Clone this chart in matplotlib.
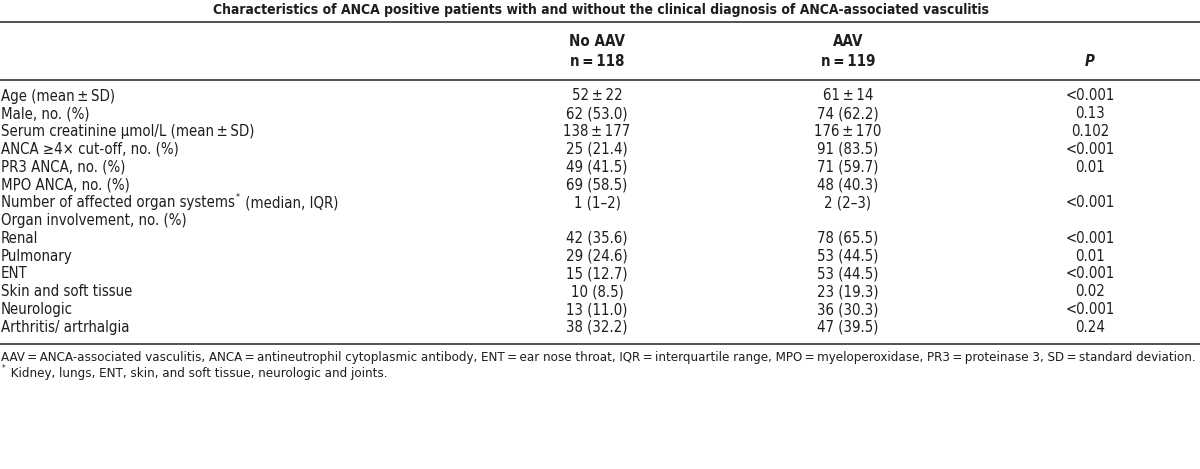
import matplotlib.pyplot as plt
from matplotlib import font_manager
from matplotlib.font_manager import FontProperties

# --- table content ---
title = "Characteristics of ANCA positive patients with and without the clinical diagnosis of ANCA-associated vasculitis"
col_top = ["No AAV", "AAV", ""]
col_bottom = ["n\u2009=\u2009118", "n\u2009=\u2009119", "P"]

row_labels = [
    "Age (mean\u2009\u00b1\u2009SD)",
    "Male, no. (%)",
    "Serum creatinine \u03bcmol/L (mean\u2009\u00b1\u2009SD)",
    "ANCA \u22654\u00d7 cut-off, no. (%)",
    "PR3 ANCA, no. (%)",
    "MPO ANCA, no. (%)",
    "Number of affected organ systems* (median, IQR)",
    "Organ involvement, no. (%)",
    "Renal",
    "Pulmonary",
    "ENT",
    "Skin and soft tissue",
    "Neurologic",
    "Arthritis/ artrhalgia",
]
no_aav = ["52\u2009\u00b1\u200922", "62 (53.0)", "138\u2009\u00b1\u2009177", "25 (21.4)", "49 (41.5)",
          "69 (58.5)", "1 (1\u20132)", "", "42 (35.6)", "29 (24.6)", "15 (12.7)",
          "10 (8.5)", "13 (11.0)", "38 (32.2)"]
aav = ["61\u2009\u00b1\u200914", "74 (62.2)", "176\u2009\u00b1\u2009170", "91 (83.5)", "71 (59.7)",
       "48 (40.3)", "2 (2\u20133)", "", "78 (65.5)", "53 (44.5)", "53 (44.5)",
       "23 (19.3)", "36 (30.3)", "47 (39.5)"]
p_vals = ["<0.001", "0.13", "0.102", "<0.001", "0.01", "", "<0.001", "",
          "<0.001", "0.01", "<0.001", "0.02", "<0.001", "0.24"]

footnote1 = ("AAV\u2009=\u2009ANCA-associated vasculitis, ANCA\u2009=\u2009antineutrophil cytoplasmic antibody, "
             "ENT\u2009=\u2009ear nose throat, IQR\u2009=\u2009interquartile range, MPO\u2009=\u2009myeloperoxidase, "
             "PR3\u2009=\u2009proteinase 3, SD\u2009=\u2009standard deviation.")
footnote2 = "* Kidney, lungs, ENT, skin, and soft tissue, neurologic and joints."


# --- fonts: prefer a narrow / condensed face, like the original ---
def find_font(keys, bold=False, italic=False):
    for key in keys:
        for f in font_manager.fontManager.ttflist:
            fn = f.fname.replace('-', '').replace('_', '').lower()
            if key in fn:
                isbold = f.weight in (600, 700, 'bold') or 'bold' in fn
                isit = f.style == 'italic' or 'italic' in fn or 'oblique' in fn
                if isbold == bold and isit == italic:
                    return f.fname
    return None


narrow = ['liberationsansnarrow', 'dejavusanscondensed']
reg_file = find_font(narrow)
bold_file = find_font(narrow, bold=True)
boldit_file = find_font(narrow, bold=True, italic=True)

fp_reg = FontProperties(fname=reg_file) if reg_file else FontProperties(family='Liberation Sans')
fp_bold = FontProperties(fname=bold_file) if bold_file else FontProperties(family='Liberation Sans', weight='bold')
fp_bi = (FontProperties(fname=boldit_file) if boldit_file
         else FontProperties(family=fp_bold.get_family(), weight='bold', style='italic'))

fig = plt.figure(figsize=(12, 4.69), dpi=100)
ax = fig.add_axes([0, 0, 1, 1])
ax.set_xlim(0, 1200)
ax.set_ylim(469, 0)
ax.axis('off')
renderer = fig.canvas.get_renderer()


def fit_size(s, fp, target_px):
    # font size at which string s is target_px wide
    t = fig.text(0, 0, s, fontproperties=fp, fontsize=10)
    w = t.get_window_extent(renderer).width
    t.remove()
    return 10 * target_px / w


fs_body = fit_size("Number of affected organ systems (median, IQR)", fp_reg, 331)
# bold face is wider than the original's, so let it run a bit wide to keep the height
fs_title = fit_size(title, fp_bold, 672) * 1.15
fs_head = fit_size("No AAV", fp_bold, 48) * 1.15
fs_foot = fit_size(footnote1, fp_reg, 1188)

txt = '#1e1e1e'
col_x = [597, 848, 1090]

ax.text(601, 10, title, ha='center', va='center', fontproperties=fp_bold, fontsize=fs_title, color=txt)

# rules
for y in [22, 80, 344]:
    ax.plot([0, 1200], [y, y], color='#444444', lw=1.3, solid_capstyle='butt')

# header
for i, x in enumerate(col_x):
    if col_top[i]:
        ax.text(x, 41, col_top[i], ha='center', va='center', fontproperties=fp_bold,
                fontsize=fs_head, color=txt)
    ax.text(x, 61, col_bottom[i], ha='center', va='center',
            fontproperties=fp_bi if col_bottom[i] == 'P' else fp_bold, fontsize=fs_head, color=txt)


def text_with_star(x, y, s, fs):
    # draws s, turning a '*' into a small raised asterisk
    if '*' not in s:
        ax.text(x, y, s, ha='left', va='center', fontproperties=fp_reg, fontsize=fs, color=txt)
        return
    left, right = s.split('*', 1)
    cur = x
    if left:
        t = ax.text(cur, y, left, ha='left', va='center', fontproperties=fp_reg, fontsize=fs, color=txt)
        cur = ax.transData.inverted().transform((t.get_window_extent(renderer).x1, 0))[0]
    ax.text(cur + 1, y - 5, '*', ha='left', va='center', fontproperties=fp_reg, fontsize=fs * 0.6, color=txt)
    ax.text(cur + 6, y, right, ha='left', va='center', fontproperties=fp_reg, fontsize=fs, color=txt)


# body rows
y0, dy = 96, 17.8
for i, (lab, a, b, p) in enumerate(zip(row_labels, no_aav, aav, p_vals)):
    y = y0 + i * dy
    text_with_star(1, y, lab, fs_body)
    ax.text(col_x[0], y, a, ha='center', va='center', fontproperties=fp_reg, fontsize=fs_body, color=txt)
    ax.text(col_x[1], y, b, ha='center', va='center', fontproperties=fp_reg, fontsize=fs_body, color=txt)
    ax.text(col_x[2], y, p, ha='center', va='center', fontproperties=fp_reg, fontsize=fs_body, color=txt)

text_with_star(1, 357, footnote1, fs_foot)
text_with_star(1, 374, footnote2, fs_foot)

fig.savefig('out.png', dpi=100)
